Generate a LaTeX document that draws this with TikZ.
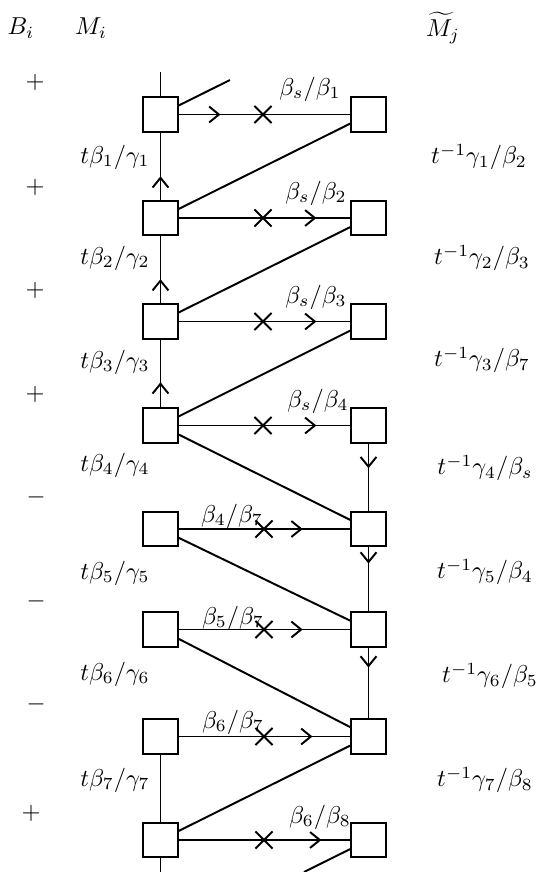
\documentclass[tikz,border=0pt]{standalone}
\usetikzlibrary{arrows.meta,decorations.markings}
\tikzset{
  box/.style={draw, thick, minimum size=0.5cm, inner sep=0pt},
  conn/.style={thick},
  lbl/.style={inner sep=0pt},
  xmark/.style={postaction={decorate, decoration={markings,
      mark=at position #1 with {\draw[thick] (-3.5pt,-3.5pt)--(3.5pt,3.5pt) (-3.5pt,3.5pt)--(3.5pt,-3.5pt);}}}},
  amark/.style={postaction={decorate, decoration={markings,
      mark=at position #1 with {\arrow[thick]{Straight Barb[length=4pt,width=6.5pt]}}}}},
}
\begin{document}
\begin{tikzpicture}[x=0.014388cm, y=-0.014388cm]
\useasboundingbox (0,0) rectangle (539,872);
% headers
\node[lbl] (hB) at (21,28) {$B_i$};
\node[lbl] (hM) at (91,28) {$M_i$};
\node[lbl] (hMt) at (443,28) {$\widetilde{M}_j$};
% signs
\node[lbl] (s1) at (35,82) {$+$};
\node[lbl] (s2) at (35,187) {$+$};
\node[lbl] (s3) at (35,290) {$+$};
\node[lbl] (s4) at (35,394) {$+$};
\node[lbl] (s5) at (36,497) {$-$};
\node[lbl] (s6) at (36,601) {$-$};
\node[lbl] (s7) at (36,704) {$-$};
\node[lbl] (s8) at (31,813) {$+$};
% boxes
\foreach \i/\y in {1/114.5,2/218,3/321.5,4/425.5,5/529,6/629.5,7/736.5,8/840}{
  \node[box] (l\i) at (160.5,\y) {};
  \node[box] (r\i) at (368.5,\y) {};
}
% free ends
\coordinate (topv) at (160.5,72);
\coordinate (topd) at (230,80);
\coordinate (botv) at (160.5,872);
\coordinate (botd) at (304,872);
\draw[conn] (l1) -- (topv);
\draw[conn] (l1) -- (topd);
\draw[conn] (l8) -- (botv);
\draw[conn] (r8) -- (botd);
% horizontals
\draw[conn, amark=0.243, xmark=0.491] (l1) -- (r1);
\draw[conn, xmark=0.491, amark=0.803] (l2) -- (r2);
\draw[conn, xmark=0.491, amark=0.803] (l3) -- (r3);
\draw[conn, xmark=0.491, amark=0.803] (l4) -- (r4);
\draw[conn, xmark=0.497, amark=0.723] (l5) -- (r5);
\draw[conn, xmark=0.497, amark=0.723] (l6) -- (r6);
\draw[conn, xmark=0.497, amark=0.780] (l7) -- (r7);
\draw[conn, xmark=0.497, amark=0.832] (l8) -- (r8);
% diagonals
\draw[conn] (l2) -- (r1);
\draw[conn] (l3) -- (r2);
\draw[conn] (l4) -- (r3);
\draw[conn] (l4) -- (r5);
\draw[conn] (l5) -- (r6);
\draw[conn] (l6) -- (r7);
\draw[conn] (l8) -- (r7);
% verticals
\draw[conn, amark=0.35] (l2) -- (l1);
\draw[conn, amark=0.36] (l3) -- (l2);
\draw[conn, amark=0.37] (l4) -- (l3);
\draw[conn] (l7) -- (l8);
\draw[conn, amark=0.365] (r4) -- (r5);
\draw[conn, amark=0.254] (r5) -- (r6);
\draw[conn, amark=0.28] (r6) -- (r7);
% row labels
\node[lbl] (h1) at (310,89) {$\beta_s/\beta_1$};
\node[lbl] (h2) at (316,193) {$\beta_s/\beta_2$};
\node[lbl] (h3) at (316,297) {$\beta_s/\beta_3$};
\node[lbl] (h4) at (318,401) {$\beta_s/\beta_4$};
\node[lbl] (h5) at (232,516) {$\beta_4/\beta_7$};
\node[lbl] (h6) at (233,618) {$\beta_5/\beta_7$};
\node[lbl] (h7) at (233,722) {$\beta_6/\beta_7$};
\node[lbl] (h8) at (320,817) {$\beta_6/\beta_8$};
% left labels
\node[lbl] (a1) at (115,157) {$t\beta_1/\gamma_1$};
\node[lbl] (a2) at (115,258) {$t\beta_2/\gamma_2$};
\node[lbl] (a3) at (115,362) {$t\beta_3/\gamma_3$};
\node[lbl] (a4) at (115,465) {$t\beta_4/\gamma_4$};
\node[lbl] (a5) at (115,573) {$t\beta_5/\gamma_5$};
\node[lbl] (a6) at (115,674) {$t\beta_6/\gamma_6$};
\node[lbl] (a7) at (115,780) {$t\beta_7/\gamma_7$};
% right labels
\node[lbl] (b1) at (479,157) {$t^{-1}\gamma_1/\beta_2$};
\node[lbl] (b2) at (482,258) {$t^{-1}\gamma_2/\beta_3$};
\node[lbl] (b3) at (482,360) {$t^{-1}\gamma_3/\beta_7$};
\node[lbl] (b4) at (485,468) {$t^{-1}\gamma_4/\beta_s$};
\node[lbl] (b5) at (485,572) {$t^{-1}\gamma_5/\beta_4$};
\node[lbl] (b6) at (490,676) {$t^{-1}\gamma_6/\beta_5$};
\node[lbl] (b7) at (485,780) {$t^{-1}\gamma_7/\beta_8$};
\end{tikzpicture}
\end{document}
